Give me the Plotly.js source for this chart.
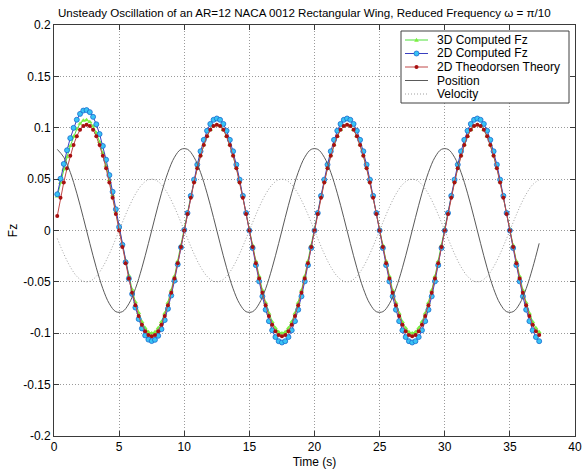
<!DOCTYPE html>
<html>
<head>
<meta charset="utf-8">
<script src="https://cdn.plot.ly/plotly-3.0.1.min.js"></script>
<style>
  html, body { margin: 0; padding: 0; background: #ffffff; }
  #chart { width: 583px; height: 472px; }
</style>
</head>
<body>
<div id="chart"></div>
<script>
// ---------- data ----------
var tFz = [
  0.25,0.5,0.75,1,1.25,1.5,1.75,2,2.25,2.5,2.75,3,3.25,3.5,3.75,4,4.25,4.5,4.75,5,
  5.25,5.5,5.75,6,6.25,6.5,6.75,7,7.25,7.5,7.75,8,8.25,8.5,8.75,9,9.25,9.5,9.75,10,
  10.25,10.5,10.75,11,11.25,11.5,11.75,12,12.25,12.5,12.75,13,13.25,13.5,13.75,14,14.25,14.5,14.75,15,
  15.25,15.5,15.75,16,16.25,16.5,16.75,17,17.25,17.5,17.75,18,18.25,18.5,18.75,19,19.25,19.5,19.75,20,
  20.25,20.5,20.75,21,21.25,21.5,21.75,22,22.25,22.5,22.75,23,23.25,23.5,23.75,24,24.25,24.5,24.75,25,
  25.25,25.5,25.75,26,26.25,26.5,26.75,27,27.25,27.5,27.75,28,28.25,28.5,28.75,29,29.25,29.5,29.75,30,
  30.25,30.5,30.75,31,31.25,31.5,31.75,32,32.25,32.5,32.75,33,33.25,33.5,33.75,34,34.25,34.5,34.75,35,
  35.25,35.5,35.75,36,36.25,36.5,36.75,37,37.25
];

var fz3D = [
  0.0331,0.0465,0.0595,0.0715,0.0823,0.0914,0.0987,0.1039,0.1070,0.1075,
  0.1057,0.1014,0.0949,0.0862,0.0755,0.0632,0.0493,0.0344,0.0187,0.0026,
  -0.0134,-0.0291,-0.0439,-0.0576,-0.0697,-0.0801,-0.0889,-0.0950,-0.0988,-0.1000,
  -0.0988,-0.0950,-0.0889,-0.0806,-0.0703,-0.0582,-0.0446,-0.0299,-0.0144,0.0015,
  0.0174,0.0329,0.0476,0.0612,0.0733,0.0836,0.0919,0.0980,0.1018,0.1030,
  0.1018,0.0980,0.0919,0.0836,0.0733,0.0612,0.0476,0.0329,0.0174,0.0015,
  -0.0144,-0.0299,-0.0446,-0.0582,-0.0703,-0.0806,-0.0889,-0.0950,-0.0988,-0.1000,
  -0.0988,-0.0950,-0.0889,-0.0806,-0.0703,-0.0582,-0.0446,-0.0299,-0.0144,0.0015,
  0.0174,0.0329,0.0476,0.0612,0.0733,0.0836,0.0919,0.0980,0.1018,0.1030,
  0.1018,0.0980,0.0919,0.0836,0.0733,0.0612,0.0476,0.0329,0.0174,0.0015,
  -0.0144,-0.0299,-0.0446,-0.0582,-0.0703,-0.0806,-0.0889,-0.0950,-0.0988,-0.1000,
  -0.0988,-0.0950,-0.0889,-0.0806,-0.0703,-0.0582,-0.0446,-0.0299,-0.0144,0.0015,
  0.0174,0.0329,0.0476,0.0612,0.0733,0.0836,0.0919,0.0980,0.1018,0.1030,
  0.1018,0.0980,0.0919,0.0836,0.0733,0.0612,0.0476,0.0329,0.0174,0.0015,
  -0.0144,-0.0299,-0.0446,-0.0582,-0.0703,-0.0806,-0.0889,-0.0950,-0.0988
];

var fz2D = [
  0.0353,0.0504,0.0648,0.0781,0.0899,0.0999,0.1078,0.1135,0.1167,0.1172,
  0.1152,0.1106,0.1034,0.0939,0.0823,0.0689,0.0539,0.0377,0.0207,0.0034,
  -0.0139,-0.0309,-0.0469,-0.0618,-0.0750,-0.0862,-0.0953,-0.1021,-0.1062,-0.1076,
  -0.1064,-0.1025,-0.0960,-0.0872,-0.0762,-0.0633,-0.0488,-0.0330,-0.0164,0.0006,
  0.0170,0.0337,0.0495,0.0641,0.0771,0.0882,0.0971,0.1037,0.1077,0.1090,
  0.1077,0.1037,0.0971,0.0882,0.0771,0.0641,0.0495,0.0337,0.0170,0.0000,
  -0.0170,-0.0337,-0.0495,-0.0641,-0.0771,-0.0882,-0.0971,-0.1037,-0.1077,-0.1090,
  -0.1077,-0.1037,-0.0971,-0.0882,-0.0771,-0.0641,-0.0495,-0.0337,-0.0170,0.0000,
  0.0170,0.0337,0.0495,0.0641,0.0771,0.0882,0.0971,0.1037,0.1077,0.1090,
  0.1077,0.1037,0.0971,0.0882,0.0771,0.0641,0.0495,0.0337,0.0170,0.0000,
  -0.0170,-0.0337,-0.0495,-0.0641,-0.0771,-0.0882,-0.0971,-0.1037,-0.1077,-0.1090,
  -0.1077,-0.1037,-0.0971,-0.0882,-0.0771,-0.0641,-0.0495,-0.0337,-0.0170,0.0000,
  0.0170,0.0337,0.0495,0.0641,0.0771,0.0882,0.0971,0.1037,0.1077,0.1090,
  0.1077,0.1037,0.0971,0.0882,0.0771,0.0641,0.0495,0.0337,0.0170,0.0000,
  -0.0170,-0.0337,-0.0495,-0.0641,-0.0771,-0.0882,-0.0971,-0.1037,-0.1077
];

var fzTheo = [
  0.0140,0.0318,0.0468,0.0605,0.0728,0.0833,0.0918,0.0980,0.1017,0.1030,
  0.1017,0.0980,0.0918,0.0833,0.0728,0.0605,0.0468,0.0318,0.0161,0.0000,
  -0.0161,-0.0318,-0.0468,-0.0605,-0.0728,-0.0833,-0.0918,-0.0980,-0.1017,-0.1030,
  -0.1017,-0.0980,-0.0918,-0.0833,-0.0728,-0.0605,-0.0468,-0.0318,-0.0161,0.0000,
  0.0161,0.0318,0.0468,0.0605,0.0728,0.0833,0.0918,0.0980,0.1017,0.1030,
  0.1017,0.0980,0.0918,0.0833,0.0728,0.0605,0.0468,0.0318,0.0161,0.0000,
  -0.0161,-0.0318,-0.0468,-0.0605,-0.0728,-0.0833,-0.0918,-0.0980,-0.1017,-0.1030,
  -0.1017,-0.0980,-0.0918,-0.0833,-0.0728,-0.0605,-0.0468,-0.0318,-0.0161,0.0000,
  0.0161,0.0318,0.0468,0.0605,0.0728,0.0833,0.0918,0.0980,0.1017,0.1030,
  0.1017,0.0980,0.0918,0.0833,0.0728,0.0605,0.0468,0.0318,0.0161,0.0000,
  -0.0161,-0.0318,-0.0468,-0.0605,-0.0728,-0.0833,-0.0918,-0.0980,-0.1017,-0.1030,
  -0.1017,-0.0980,-0.0918,-0.0833,-0.0728,-0.0605,-0.0468,-0.0318,-0.0161,0.0000,
  0.0161,0.0318,0.0468,0.0605,0.0728,0.0833,0.0918,0.0980,0.1017,0.1030,
  0.1017,0.0980,0.0918,0.0833,0.0728,0.0605,0.0468,0.0318,0.0161,0.0000,
  -0.0161,-0.0318,-0.0468,-0.0605,-0.0728,-0.0833,-0.0918,-0.0980,-0.1017
];

var tMotion = [
  0.25,0.75,1.25,1.75,2.25,2.75,3.25,3.75,4.25,4.75,5.25,5.75,6.25,6.75,7.25,7.75,8.25,8.75,9.25,9.75,
  10.25,10.75,11.25,11.75,12.25,12.75,13.25,13.75,14.25,14.75,15.25,15.75,16.25,16.75,17.25,17.75,18.25,18.75,19.25,19.75,
  20.25,20.75,21.25,21.75,22.25,22.75,23.25,23.75,24.25,24.75,25.25,25.75,26.25,26.75,27.25,27.75,28.25,28.75,29.25,29.75,
  30.25,30.75,31.25,31.75,32.25,32.75,33.25,33.75,34.25,34.75,35.25,35.75,36.25,36.75,37.25
];

var position = [
  0.0790,0.0713,0.0566,0.0363,0.0125,-0.0125,-0.0363,-0.0566,-0.0713,-0.0790,-0.0790,-0.0713,-0.0566,-0.0363,-0.0125,0.0125,0.0363,0.0566,0.0713,0.0790,
  0.0790,0.0713,0.0566,0.0363,0.0125,-0.0125,-0.0363,-0.0566,-0.0713,-0.0790,-0.0790,-0.0713,-0.0566,-0.0363,-0.0125,0.0125,0.0363,0.0566,0.0713,0.0790,
  0.0790,0.0713,0.0566,0.0363,0.0125,-0.0125,-0.0363,-0.0566,-0.0713,-0.0790,-0.0790,-0.0713,-0.0566,-0.0363,-0.0125,0.0125,0.0363,0.0566,0.0713,0.0790,
  0.0790,0.0713,0.0566,0.0363,0.0125,-0.0125,-0.0363,-0.0566,-0.0713,-0.0790,-0.0790,-0.0713,-0.0566,-0.0363,-0.0125
];

var velocity = [
  -0.0078,-0.0227,-0.0354,-0.0446,-0.0494,-0.0494,-0.0446,-0.0354,-0.0227,-0.0078,0.0078,0.0227,0.0354,0.0446,0.0494,0.0494,0.0446,0.0354,0.0227,0.0078,
  -0.0078,-0.0227,-0.0354,-0.0446,-0.0494,-0.0494,-0.0446,-0.0354,-0.0227,-0.0078,0.0078,0.0227,0.0354,0.0446,0.0494,0.0494,0.0446,0.0354,0.0227,0.0078,
  -0.0078,-0.0227,-0.0354,-0.0446,-0.0494,-0.0494,-0.0446,-0.0354,-0.0227,-0.0078,0.0078,0.0227,0.0354,0.0446,0.0494,0.0494,0.0446,0.0354,0.0227,0.0078,
  -0.0078,-0.0227,-0.0354,-0.0446,-0.0494,-0.0494,-0.0446,-0.0354,-0.0227,-0.0078,0.0078,0.0227,0.0354,0.0446,0.0494
];

var seriesNames = ['3D Computed Fz', '2D Computed Fz', '2D Theodorsen Theory', 'Position', 'Velocity'];
var xTickVals = [0, 5, 10, 15, 20, 25, 30, 35, 40];
var xTickText = ['0', '5', '10', '15', '20', '25', '30', '35', '40'];
var yTickVals = [-0.2, -0.15, -0.1, -0.05, 0, 0.05, 0.1, 0.15, 0.2];
var yTickText = ['-0.2', '-0.15', '-0.1', '-0.05', '0', '0.05', '0.1', '0.15', '0.2'];

// ---------- styles ----------
var FONT = 'Liberation Sans, Arial, Helvetica, sans-serif';
var C_GREEN_LINE = '#4ee03a', C_GREEN_MK = '#7cf040';
var C_BLUE_LINE = '#3a3fc0', C_BLUE_MK = '#38c4f4', C_BLUE_EDGE = '#1a6ad0';
var C_RED_LINE = '#c04848', C_RED_MK = '#a81010';
var C_POS = '#5a5a5a', C_VEL = '#a0a0a0';

var traces = [
  {x: tFz, y: fz3D, name: seriesNames[0], mode: 'lines+markers',
   line: {color: C_GREEN_LINE, width: 1},
   marker: {symbol: 'triangle-up', size: 4.5, color: C_GREEN_MK, line: {width: 0}}},
  {x: tFz, y: fz2D, name: seriesNames[1], mode: 'lines+markers',
   line: {color: C_BLUE_LINE, width: 1},
   marker: {symbol: 'circle', size: 5, color: C_BLUE_MK, line: {color: C_BLUE_EDGE, width: 0.8}}},
  {x: tFz, y: fzTheo, name: seriesNames[2], mode: 'lines+markers',
   line: {color: C_RED_LINE, width: 1},
   marker: {symbol: 'circle', size: 4, color: C_RED_MK, line: {width: 0}}},
  {x: tMotion, y: position, name: seriesNames[3], mode: 'lines',
   line: {color: C_POS, width: 1, shape: 'spline'}},
  {x: tMotion, y: velocity, name: seriesNames[4], mode: 'lines',
   line: {color: C_VEL, width: 1, dash: '1px,2px', shape: 'spline'}}
];

// ---------- custom legend (MATLAB-style compact box) ----------
var M = {l: 54, r: 8, t: 25, b: 36};
var W = 583, H = 472;
var pw = W - M.l - M.r, ph = H - M.t - M.b;
function px2x(p) { return (p - M.l) / pw; }
function px2y(p) { return (H - M.b - p) / ph; }

var legBox = {x0: px2x(401), x1: px2x(569), y0: px2y(103), y1: px2y(31)};
var rowPx = [40, 53.5, 67, 80.5, 94];
var lineX0 = px2x(405), lineX1 = px2x(428), mkX = px2x(416.5), txtX = px2x(435);

var shapes = [{type: 'rect', xref: 'paper', yref: 'paper', x0: legBox.x0, x1: legBox.x1,
  y0: legBox.y0, y1: legBox.y1, fillcolor: '#ffffff', line: {color: '#404040', width: 1}, layer: 'above'}];
var annotations = [];
var legLine = [
  {color: C_GREEN_LINE, dash: 'solid'}, {color: C_BLUE_LINE, dash: 'solid'},
  {color: C_RED_LINE, dash: 'solid'}, {color: C_POS, dash: 'solid'}, {color: C_VEL, dash: '1px,2px'}
];
for (var i = 0; i < seriesNames.length; i++) {
  var yy = px2y(rowPx[i]);
  shapes.push({type: 'line', xref: 'paper', yref: 'paper', x0: lineX0, x1: lineX1, y0: yy, y1: yy,
    line: {color: legLine[i].color, width: 1, dash: legLine[i].dash}, layer: 'above'});
  annotations.push({xref: 'paper', yref: 'paper', x: txtX, y: yy, xanchor: 'left', yanchor: 'middle',
    text: seriesNames[i], showarrow: false, font: {family: FONT, size: 12, color: '#000000'}});
}
// legend markers
shapes.push({type: 'path', xref: 'paper', yref: 'paper', xsizemode: 'pixel', ysizemode: 'pixel',
  xanchor: mkX, yanchor: px2y(rowPx[0]), path: 'M -2.3 -1.8 L 2.3 -1.8 L 0 2.3 Z',
  fillcolor: C_GREEN_MK, line: {width: 0}, layer: 'above'});
shapes.push({type: 'circle', xref: 'paper', yref: 'paper', xsizemode: 'pixel', ysizemode: 'pixel',
  xanchor: mkX, yanchor: px2y(rowPx[1]), x0: -2.5, x1: 2.5, y0: -2.5, y1: 2.5,
  fillcolor: C_BLUE_MK, line: {color: C_BLUE_EDGE, width: 0.8}, layer: 'above'});
shapes.push({type: 'circle', xref: 'paper', yref: 'paper', xsizemode: 'pixel', ysizemode: 'pixel',
  xanchor: mkX, yanchor: px2y(rowPx[2]), x0: -2, x1: 2, y0: -2, y1: 2,
  fillcolor: C_RED_MK, line: {width: 0}, layer: 'above'});

var axisCommon = {
  showline: true, mirror: 'ticks', linecolor: '#3a3a3a', linewidth: 1,
  ticks: 'inside', ticklen: 5, tickcolor: '#3a3a3a', tickwidth: 1,
  showgrid: true, gridcolor: '#9a9a9a', gridwidth: 1, griddash: '1px,2px',
  zeroline: false, tickfont: {family: FONT, size: 12, color: '#000000'}
};

var layout = {
  width: W, height: H,
  margin: M,
  paper_bgcolor: '#ffffff', plot_bgcolor: '#ffffff',
  showlegend: false,
  font: {family: FONT, size: 12, color: '#000000'},
  title: {text: 'Unsteady Oscillation of an AR=12 NACA 0012 Rectangular Wing, Reduced Frequency \u03c9 = \u03c0/10',
    font: {family: FONT, size: 11.6, color: '#000000'},
    xref: 'container', x: 0.522, xanchor: 'center',
    yref: 'container', y: 1 - 13 / H, yanchor: 'middle'},
  xaxis: Object.assign({}, axisCommon, {
    range: [0, 40], tickmode: 'array', tickvals: xTickVals, ticktext: xTickText,
    title: {text: 'Time (s)', font: {family: FONT, size: 12, color: '#000000'}, standoff: 4}
  }),
  yaxis: Object.assign({}, axisCommon, {
    range: [-0.2, 0.2], tickmode: 'array', tickvals: yTickVals, ticktext: yTickText,
    title: {text: 'Fz', font: {family: FONT, size: 12, color: '#000000'}, standoff: 3}
  }),
  shapes: shapes,
  annotations: annotations
};

Plotly.newPlot('chart', traces, layout, {displayModeBar: false, staticPlot: true});
</script>
</body>
</html>
